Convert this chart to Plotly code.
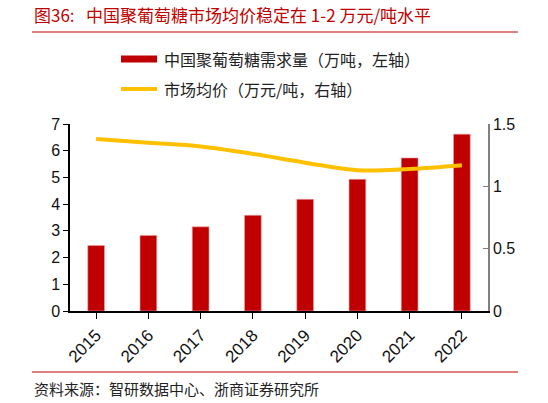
import plotly.graph_objects as go

# ─── Datos ────────────────────────────────────────────────────────────────
years = ["2015", "2016", "2017", "2018", "2019", "2020", "2021", "2022"]
demand = [2.45, 2.83, 3.15, 3.58, 4.18, 4.93, 5.73, 6.62]      # 万吨, 左轴
price = [1.38, 1.35, 1.32, 1.26, 1.19, 1.13, 1.14, 1.17]       # 万元/吨, 右轴

title_text = "图36:   中国聚葡萄糖市场均价稳定在 1-2 万元/吨水平"
bar_name = "中国聚葡萄糖需求量（万吨，左轴）"
line_name = "市场均价（万元/吨，右轴）"
source_text = "资料来源：智研数据中心、浙商证券研究所"

RED = "#C00000"
YELLOW = "#FFC000"
CJK = "Noto Sans CJK SC"
LATIN = "Liberation Sans, Arial, sans-serif"

# plot area in pixels: x 70..488, y 124..311
W, H = 548, 403
L, R, T, B = 70, 60, 124, 92


def px(x):
    return (x - L) / (W - L - R)


def py(y):
    return (H - B - y) / (H - T - B)


fig = go.Figure()
fig.add_trace(go.Bar(
    x=years, y=demand, name=bar_name,
    marker=dict(color=RED, line=dict(color="#E8A0A0", width=0.6)),
    width=0.32, showlegend=False,
))
fig.add_trace(go.Scatter(
    x=years, y=price, name=line_name, yaxis="y2",
    mode="lines", line=dict(color=YELLOW, width=4, shape="spline", smoothing=1.0),
    showlegend=False,
))

shapes = [
    # title rule
    dict(type="line", xref="paper", yref="paper", x0=px(32), x1=px(518),
         y0=py(32), y1=py(32), line=dict(color=RED, width=1)),
    # footer rule
    dict(type="line", xref="paper", yref="paper", x0=px(32), x1=px(518),
         y0=py(372), y1=py(372), line=dict(color=RED, width=1)),
    # legend swatches
    dict(type="line", xref="paper", yref="paper", x0=px(121), x1=px(157),
         y0=py(59), y1=py(59), line=dict(color=RED, width=7)),
    dict(type="line", xref="paper", yref="paper", x0=px(121), x1=px(157),
         y0=py(89), y1=py(89), line=dict(color=YELLOW, width=4)),
]

annotations = [
    dict(text=title_text, xref="paper", yref="paper", x=px(32), y=py(15),
         xanchor="left", yanchor="middle", showarrow=False,
         font=dict(family=CJK, size=17, color=RED)),
    dict(text=bar_name, xref="paper", yref="paper", x=px(162), y=py(59),
         xanchor="left", yanchor="middle", showarrow=False,
         font=dict(family=CJK, size=16, color="#222222")),
    dict(text=line_name, xref="paper", yref="paper", x=px(162), y=py(89),
         xanchor="left", yanchor="middle", showarrow=False,
         font=dict(family=CJK, size=16, color="#222222")),
    dict(text=source_text, xref="paper", yref="paper", x=px(32), y=py(388),
         xanchor="left", yanchor="middle", showarrow=False,
         font=dict(family=CJK, size=15, color="#222222")),
]

fig.update_layout(
    width=W, height=H,
    margin=dict(l=L, r=R, t=T, b=B),
    plot_bgcolor="white", paper_bgcolor="white",
    font=dict(family=LATIN, size=16, color="#111111"),
    xaxis=dict(
        type="category", range=[-0.5, 7.5],
        showline=True, linecolor="black", linewidth=1.5,
        ticks="outside", ticklen=6, tickcolor="black",
        tickangle=-45, tickfont=dict(size=17),
        showgrid=False, zeroline=False,
    ),
    yaxis=dict(
        range=[0, 7], dtick=1,
        showline=True, linecolor="black", linewidth=1.5,
        ticks="outside", ticklen=5, tickcolor="black",
        tickfont=dict(size=16),
        showgrid=False, zeroline=False,
    ),
    yaxis2=dict(
        overlaying="y", side="right", range=[0, 1.5],
        tickvals=[0, 0.5, 1, 1.5], ticktext=["0", "0.5", "1", "1.5"],
        showline=True, linecolor="#808080", linewidth=1.5,
        ticks="inside", ticklen=5, tickcolor="#808080",
        tickfont=dict(size=16),
        showgrid=False, zeroline=False,
    ),
    shapes=shapes,
    annotations=annotations,
)

# quitar el margen por defecto del <body> para que la figura empiece en (0, 0)
fig.write_html(
    "out.html",
    config={"displayModeBar": False},
    post_script="document.body.style.margin='0';",
)
